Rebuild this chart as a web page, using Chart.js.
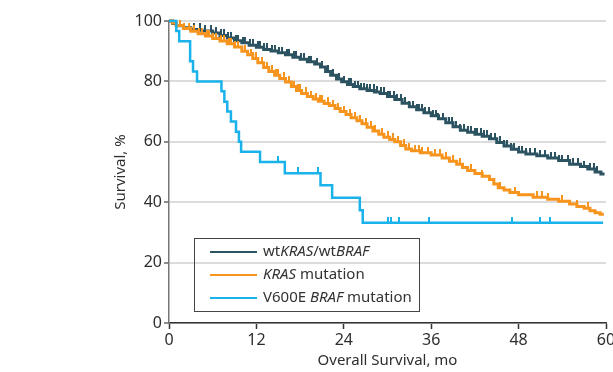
<!DOCTYPE html>
<html>
<head>
<meta charset="utf-8">
<script src="https://cdn.jsdelivr.net/npm/chart.js@4/dist/chart.umd.min.js"></script>
<style>
	body { margin: 0; overflow: hidden; background: #fff; }
	#wrap { position: relative; width: 640px; height: 372px; }
	#legend { position: absolute; left: 194px; top: 238px; width: 224px; height: 72px;
		border: 1.5px solid #444; font-family: 'Noto Sans', sans-serif; font-size: 15px; color: #333; }
	#legend .row { position: absolute; left: 15px; height: 20px; line-height: 20px; white-space: nowrap; }
	#legend .sw { display: inline-block; width: 47px; height: 2.5px; vertical-align: middle; margin-right: 6px; }
</style>
</head>
<body>
<div id="wrap">
	<canvas id="km" width="640" height="372"></canvas>
	<div id="legend"></div>
</div>
<script>
// months / survival %
var wtSteps = [[0,100],[0.5,99.2],[1,98.4],[2,97.8],[3,97.2],[4.5,96.7],[6,96],[7,95.2],[8,94.4],[9,93.5],[10,92.8],[11,92],[12,91.3],[13,90.6],[14,90.1],[15,89.5],[16,88.8],[17,88],[18,87.3],[19,86.5],[20,85.8],[20.8,84.8],[21.5,83.3],[22.2,82],[23,80.8],[23.7,79.9],[24.5,79],[25.3,78.3],[26.2,77.6],[27.2,77],[28.2,76.5],[29,76],[30,75],[31,74],[32,72.8],[33,71.6],[34,70.6],[35,69.6],[36,68.6],[37,67.6],[38,66.3],[39,65],[40,63.8],[41,63.2],[42,62.5],[43,61.8],[44,61],[45,59.8],[46,58.6],[47,57.5],[48,56.6],[49,56],[50.5,55.4],[52,54.6],[53.5,53.8],[55,52.6],[56.5,51.8],[57.5,51],[58.5,50],[59.3,49.3],[59.8,49.3]];
var wtCensor = [3.5,4.2,5,5.8,6.5,7.1,7.5,8.1,8.5,9.2,9.5,10.2,10.5,11.1,11.5,12.2,12.5,13.1,13.5,14.2,14.5,15.1,15.5,16.2,16.5,17.2,17.5,18.1,18.5,19.2,19.5,20.3,21,21.8,22.5,23.3,24,24.7,25,25.6,26,26.4,26.8,27.2,27.6,28.1,28.5,29.1,29.5,30,30.4,30.9,31.3,31.8,32.4,33,33.5,34,34.3,34.8,35.2,35.7,36.2,36.7,37,37.6,38.4,38.9,39.4,40,40.5,41,41.5,42,42.3,42.8,43.3,43.7,44.2,44.8,45.5,46,46.4,47,47.4,48,48.5,49,49.5,50.2,51,51.6,52.5,53,53.6,54,54.8,55.5,56.2,57,57.8,58.3,58.8];

var krasSteps = [[0,100],[0.5,99.3],[1,98.5],[2,97.5],[3,96.6],[4,95.8],[5,95],[6,94.2],[7,93.4],[8,92.5],[9,91.4],[10,90],[10.8,88.8],[11.5,87.6],[12.2,86.2],[13,84.6],[13.7,83.3],[14.5,82],[15.2,81],[16,79.8],[16.8,78.3],[17.5,77],[18.2,76],[19,75],[19.8,74.2],[20.5,73.4],[21.3,72.7],[22,72],[22.8,71],[23.5,70],[24.3,69],[25,68],[25.8,67],[26.5,66],[27.2,64.8],[28,63.6],[28.8,62.5],[29.5,61.5],[30.3,60.8],[31,60],[31.8,58.8],[32.5,57.6],[33.3,57],[34.5,56.4],[36,55.6],[37.5,54.6],[38.5,53.6],[39.5,52.6],[40.3,51.5],[41,50.5],[42,49.5],[43,48.6],[44,47.5],[44.6,46],[45.2,44.8],[46,44],[46.8,43.2],[48,42.5],[50,41.6],[52,41],[53.5,40.3],[55,39.4],[56,38.6],[57,38],[57.8,37.2],[58.5,36.5],[59.2,36],[59.7,36]];
var krasCensor = [1.5,2,2.7,3.5,4.1,4.5,5.2,5.5,6.1,6.5,7.1,7.5,8.2,8.5,9.1,9.5,10.4,11.2,11.6,12,12.8,13.4,14.2,14.7,15,15.8,16.5,17.2,17.7,18,18.8,19.5,20.2,20.7,21,21.8,22.5,23.2,24,24.8,25.5,26.2,27,27.7,28.3,29.2,30,30.7,31.5,32.2,33,33.8,34.3,34.7,35.5,36.5,37.2,38,39,40,41.5,43,45.5,47.5,50.5,51.2,52,54,56,57.5];

var brafSteps = [[0,100],[1.0,96.7],[1.4,93.3],[2.9,86.7],[3.3,83.3],[3.85,80],[7.2,76.7],[7.6,73.3],[8.0,70],[8.5,66.7],[9.2,63.3],[9.6,60],[9.9,56.7],[12.5,53.3],[15.9,49.6],[20.8,45.6],[22.4,41.5],[26.2,37.3],[26.6,33.2],[59.6,33.2]];
var brafCensor = [15.0,17.7,20.5,30.0,30.5,31.6,35.7,47.1,50.9,52.3];

var seriesNames = ['wtKRAS/wtBRAF', 'KRAS mutation', 'V600E BRAF mutation'];
var legendHtml = ['wt<i>KRAS</i>/wt<i>BRAF</i>', '<i>KRAS</i> mutation', 'V600E <i>BRAF</i> mutation'];
var colors = ['#2c5361', '#f7941d', '#1ab2ea'];
var xTicks = [0, 12, 24, 36, 48, 60];
var yTicks = [0, 20, 40, 60, 80, 100];

function survAt(steps, t){
	var s = steps[0][1];
	for(var i in steps){
		if(steps[i][0] <= t) s = steps[i][1];
	}
	return s;
}

function tickMark(color){
	var c = document.createElement('canvas');
	c.width = 2; c.height = 12;
	var g = c.getContext('2d');
	g.fillStyle = color;
	g.fillRect(0, 0, 2, 6);
	return c;
}

var groups = [[wtSteps, wtCensor], [krasSteps, krasCensor], [brafSteps, brafCensor]];
var datasets = [];
for(var k = 0; k < groups.length; k++){
	var steps = groups[k][0], cens = groups[k][1];
	datasets.push({
		label: seriesNames[k],
		data: steps.map(function(p){ return {x: p[0], y: p[1]}; }),
		borderColor: colors[k],
		borderWidth: k == 2 ? 2.5 : 3,
		stepped: 'before',
		pointRadius: 0,
		fill: false,
		clip: 6,
		order: 3 - k
	});
	datasets.push({
		label: 'censor',
		type: 'scatter',
		data: cens.map(function(t){ return {x: t, y: survAt(steps, t)}; }),
		pointStyle: tickMark(colors[k]),
		showLine: false,
		clip: 6,
		order: 3 - k
	});
}

var ctx = document.getElementById('km');
var chart = new Chart(ctx, {
	type: 'line',
	data: { datasets: datasets },
	options: {
		responsive: false,
		animation: false,
		events: [],
		layout: { padding: { left: 110, right: 34, top: 21, bottom: 0 } },
		plugins: { legend: { display: false }, tooltip: { enabled: false } },
		scales: {
			x: {
				type: 'linear', min: 0, max: 60,
				afterBuildTicks: function(s){ s.ticks = xTicks.map(function(v){ return {value: v}; }); },
				afterFit: function(s){ s.height = 49; },
				grid: { drawOnChartArea: false, tickLength: 6, tickColor: '#333', tickWidth: 1.5 },
				border: { color: '#333', width: 1.5 },
				ticks: { padding: 2, color: '#2e2e2e', font: { family: 'Noto Sans', size: 16 }, maxRotation: 0 },
				title: { display: true, text: 'Overall Survival, mo', color: '#2e2e2e', padding: { top: 0, bottom: 2 },
					font: { family: 'Noto Sans', size: 15 } }
			},
			y: {
				min: 0, max: 100,
				afterBuildTicks: function(s){ s.ticks = yTicks.map(function(v){ return {value: v}; }); },
				afterFit: function(s){ s.width = 59; },
				grid: { color: '#dcdcdc', lineWidth: 2, tickLength: 5, tickColor: '#666', tickWidth: 1.5 },
				border: { color: '#777', width: 1.5 },
				ticks: { padding: 2, color: '#2e2e2e', font: { family: 'Noto Sans', size: 16 } },
				title: { display: true, text: 'Survival, %', color: '#2e2e2e', padding: { top: 2, bottom: 0 },
					font: { family: 'Noto Sans', size: 15 } }
			}
		}
	}
});

// legend box drawn as html
var lg = document.getElementById('legend');
for(var j = 0; j < legendHtml.length; j++){
	var row = document.createElement('div');
	row.className = 'row';
	row.style.top = (1 + j * 23) + 'px';
	row.innerHTML = '<span class="sw" style="background:' + chart.data.datasets[j * 2].borderColor + '"></span>' + legendHtml[j];
	lg.appendChild(row);
}
</script>
</body>
</html>
